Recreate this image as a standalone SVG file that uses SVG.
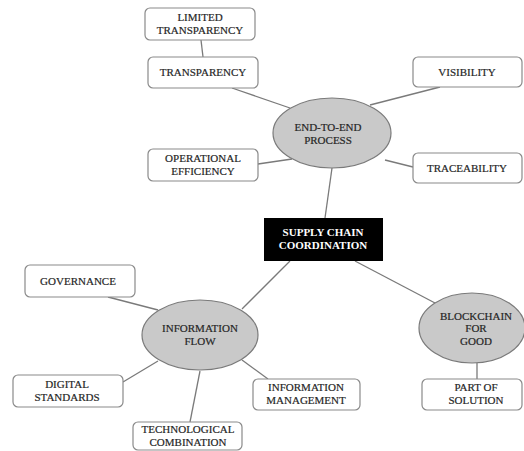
<svg xmlns="http://www.w3.org/2000/svg" width="524" height="451" viewBox="0 0 524 451">
<style>
  .box { fill: #ffffff; stroke: #8a8a8a; stroke-width: 1.2; }
  .hub { fill: #c9c9c9; stroke: #7a7a7a; stroke-width: 1.2; }
  .core { fill: #000000; }
  .lbl { font-family: "Liberation Serif", "Times New Roman", serif; font-size: 11px; fill: #262626; stroke: #262626; stroke-width: 0.2; text-anchor: middle; }
  .core-lbl { font-family: "Liberation Serif", "Times New Roman", serif; font-size: 11px; font-weight: bold; fill: #ffffff; text-anchor: middle; }
  .links line { stroke: #7a7a7a; stroke-width: 1.3; }
</style>

<g id="connectors" class="links">
  <line x1="201" y1="40" x2="203" y2="57"/>
  <line x1="232" y1="88" x2="290" y2="108"/>
  <line x1="258" y1="164" x2="292" y2="159"/>
  <line x1="370" y1="105" x2="440" y2="87"/>
  <line x1="385" y1="160" x2="413" y2="167"/>
  <line x1="332" y1="168" x2="325" y2="218"/>
  <line x1="355" y1="261" x2="435" y2="303"/>
  <line x1="477" y1="363" x2="477" y2="379"/>
  <line x1="290" y1="261" x2="242" y2="309"/>
  <line x1="108" y1="297" x2="158" y2="310"/>
  <line x1="123" y1="382" x2="158" y2="361"/>
  <line x1="190" y1="422" x2="200" y2="371"/>
  <line x1="242" y1="360" x2="268" y2="379"/>
</g>

<g id="limited-transparency">
  <rect class="box" x="145" y="8" width="110" height="32" rx="5"/>
  <text class="lbl" x="200" y="21">LIMITED</text>
  <text class="lbl" x="200" y="34">TRANSPARENCY</text>
</g>
<g id="transparency">
  <rect class="box" x="148" y="57" width="110" height="31" rx="5"/>
  <text class="lbl" x="203" y="76">TRANSPARENCY</text>
</g>
<g id="operational-efficiency">
  <rect class="box" x="148" y="149" width="110" height="32" rx="5"/>
  <text class="lbl" x="203" y="162">OPERATIONAL</text>
  <text class="lbl" x="203" y="175">EFFICIENCY</text>
</g>
<g id="end-to-end-process">
  <ellipse class="hub" cx="332" cy="133" rx="59" ry="35"/>
  <text class="lbl" x="328" y="131">END-TO-END</text>
  <text class="lbl" x="328" y="144">PROCESS</text>
</g>
<g id="visibility">
  <rect class="box" x="413" y="57" width="109" height="30" rx="5"/>
  <text class="lbl" x="467" y="76">VISIBILITY</text>
</g>
<g id="traceability">
  <rect class="box" x="413" y="153" width="109" height="30" rx="5"/>
  <text class="lbl" x="467" y="172">TRACEABILITY</text>
</g>
<g id="supply-chain-coordination">
  <rect class="core" x="264" y="218" width="119" height="43"/>
  <text class="core-lbl" x="323" y="236">SUPPLY CHAIN</text>
  <text class="core-lbl" x="323" y="249">COORDINATION</text>
</g>
<g id="blockchain-for-good">
  <ellipse class="hub" cx="472" cy="328" rx="53" ry="35"/>
  <text class="lbl" x="476" y="320">BLOCKCHAIN</text>
  <text class="lbl" x="476" y="332">FOR</text>
  <text class="lbl" x="476" y="345">GOOD</text>
</g>
<g id="part-of-solution">
  <rect class="box" x="422" y="379" width="100" height="31" rx="5"/>
  <text class="lbl" x="476" y="391">PART OF</text>
  <text class="lbl" x="476" y="404">SOLUTION</text>
</g>
<g id="information-flow">
  <ellipse class="hub" cx="200" cy="335" rx="58" ry="35"/>
  <text class="lbl" x="200" y="332">INFORMATION</text>
  <text class="lbl" x="200" y="345">FLOW</text>
</g>
<g id="governance">
  <rect class="box" x="25" y="265" width="110" height="32" rx="5"/>
  <text class="lbl" x="78" y="285">GOVERNANCE</text>
</g>
<g id="digital-standards">
  <rect class="box" x="13" y="375" width="110" height="32" rx="5"/>
  <text class="lbl" x="67" y="388">DIGITAL</text>
  <text class="lbl" x="67" y="401">STANDARDS</text>
</g>
<g id="technological-combination">
  <rect class="box" x="133" y="422" width="109" height="28" rx="5"/>
  <text class="lbl" x="188" y="433">TECHNOLOGICAL</text>
  <text class="lbl" x="188" y="446">COMBINATION</text>
</g>
<g id="information-management">
  <rect class="box" x="253" y="379" width="107" height="31" rx="5"/>
  <text class="lbl" x="306" y="391">INFORMATION</text>
  <text class="lbl" x="306" y="404">MANAGEMENT</text>
</g>
</svg>
